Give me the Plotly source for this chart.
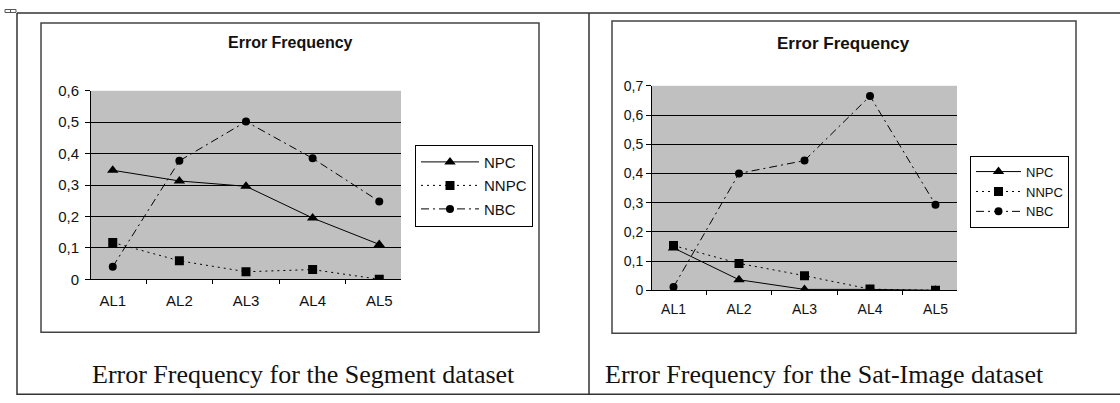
import plotly.graph_objects as go

W, H = 1120, 403

categories = ["AL1", "AL2", "AL3", "AL4", "AL5"]
series_names = ["NPC", "NNPC", "NBC"]

seg_npc = [0.347, 0.313, 0.296, 0.195, 0.111]
seg_nnpc = [0.117, 0.059, 0.024, 0.031, 0.0]
seg_nbc = [0.040, 0.377, 0.502, 0.385, 0.248]

sat_npc = [0.145, 0.036, 0.003, 0.003, 0.0]
sat_nnpc = [0.153, 0.092, 0.050, 0.004, 0.0]
sat_nbc = [0.011, 0.400, 0.444, 0.665, 0.293]

seg_ticks = [0, 0.1, 0.2, 0.3, 0.4, 0.5, 0.6]
seg_ticktext = ["0", "0,1", "0,2", "0,3", "0,4", "0,5", "0,6"]
sat_ticks = [0, 0.1, 0.2, 0.3, 0.4, 0.5, 0.6, 0.7]
sat_ticktext = ["0", "0,1", "0,2", "0,3", "0,4", "0,5", "0,6", "0,7"]

chart_title = "Error Frequency"
caption_left = "Error Frequency for the Segment dataset"
caption_right = "Error Frequency for the Sat-Image dataset"

SANS = "Arial, Liberation Sans, sans-serif"
SERIF = "Times New Roman, Liberation Serif, serif"

# The page shows the figure in a band 8px below the top and 387px tall.
TOP_OFF = 8.0
BAND_H = 387.0


def px(x):
    return x / W


def py(y):
    v = 1 - (y - TOP_OFF) / BAND_H
    return min(1.0, max(0.0, v))


styles = {
    "NPC": dict(dash="solid", symbol="triangle-up", size=10),
    "NNPC": dict(dash="2px,4px", symbol="square", size=9),
    "NBC": dict(dash="8px,4px,2px,4px", symbol="circle", size=8),
}

fig = go.Figure()

left_data = [seg_npc, seg_nnpc, seg_nbc]
right_data = [sat_npc, sat_nnpc, sat_nbc]

for name, vals in zip(series_names, left_data):
    s = styles[name]
    fig.add_trace(go.Scatter(
        x=categories, y=vals, name=name, mode="lines+markers",
        line=dict(color="black", width=1, dash=s["dash"]),
        marker=dict(symbol=s["symbol"], size=s["size"], color="black"),
        xaxis="x", yaxis="y", legend="legend", legendgroup="L" + name,
    ))

for name, vals in zip(series_names, right_data):
    s = styles[name]
    fig.add_trace(go.Scatter(
        x=categories, y=vals, name=name, mode="lines+markers",
        line=dict(color="black", width=1, dash=s["dash"]),
        marker=dict(symbol=s["symbol"], size=s["size"], color="black"),
        xaxis="x2", yaxis="y2", legend="legend2", legendgroup="R" + name,
    ))


def xaxis_style(size, standoff):
    return dict(
        type="category", showgrid=False, showline=True, linecolor="black", linewidth=1,
        ticks="outside", tickson="boundaries", ticklen=4, tickcolor="black",
        tickfont=dict(family=SANS, size=size, color="#111"),
        ticklabelstandoff=standoff, zeroline=False, fixedrange=True,
    )


def yaxis_style(size, standoff):
    return dict(
        showgrid=True, gridcolor="black", gridwidth=1, showline=True, linecolor="black",
        linewidth=1, ticks="outside", ticklen=5, tickcolor="black",
        tickfont=dict(family=SANS, size=size, color="#111"),
        ticklabelstandoff=standoff, zeroline=False, fixedrange=True,
    )


fig.update_layout(
    width=W, height=H,
    autosize=False,
    margin=dict(l=0, r=0, t=0, b=0, pad=0),
    paper_bgcolor="white",
    plot_bgcolor="#c0c0c0",
    xaxis=dict(domain=[px(91), px(401)], anchor="y", **xaxis_style(15, 8)),
    yaxis=dict(domain=[py(279), py(90)], anchor="x", range=[0, 0.6],
               tickvals=seg_ticks, ticktext=seg_ticktext, **yaxis_style(15, 3)),
    xaxis2=dict(domain=[px(652), px(957)], anchor="y2", **xaxis_style(14, 6)),
    yaxis2=dict(domain=[py(290), py(85)], anchor="x2", range=[0, 0.7],
                tickvals=sat_ticks, ticktext=sat_ticktext, **yaxis_style(14, 0)),
    legend=dict(x=px(415), y=py(144), xanchor="left", yanchor="top",
                bordercolor="black", borderwidth=1, bgcolor="white",
                font=dict(family=SANS, size=15, color="#111"),
                tracegroupgap=1, itemwidth=58),
    legend2=dict(x=px(970), y=py(155), xanchor="left", yanchor="top",
                 bordercolor="black", borderwidth=1, bgcolor="white",
                 font=dict(family=SANS, size=13, color="#111"),
                 tracegroupgap=0, itemwidth=45),
    showlegend=True,
)

shapes = []
line_col = "#333333"
# table lines
shapes.append(dict(type="line", xref="paper", yref="paper", x0=px(17), x1=px(1120), y0=py(12), y1=py(12), line=dict(color=line_col, width=1.5)))
shapes.append(dict(type="line", xref="paper", yref="paper", x0=px(17), x1=px(1120), y0=0.002, y1=0.002, line=dict(color=line_col, width=1.5)))
shapes.append(dict(type="line", xref="paper", yref="paper", x0=px(17), x1=px(17), y0=0.0, y1=py(12), line=dict(color=line_col, width=1.5)))
shapes.append(dict(type="line", xref="paper", yref="paper", x0=px(589), x1=px(589), y0=0.0, y1=py(12), line=dict(color=line_col, width=1.5)))
# chart boxes
shapes.append(dict(type="rect", xref="paper", yref="paper", x0=px(41), x1=px(539), y0=py(332), y1=py(22), line=dict(color="#444444", width=1.5), layer="below"))
shapes.append(dict(type="rect", xref="paper", yref="paper", x0=px(612), x1=px(1076), y0=py(333), y1=py(20), line=dict(color="#444444", width=1.5), layer="below"))
# table move handle
shapes.append(dict(type="rect", xref="paper", yref="paper", x0=px(5), x1=px(16), y0=py(11.5), y1=py(8.5), line=dict(color="#555555", width=1)))
shapes.append(dict(type="line", xref="paper", yref="paper", x0=px(10.5), x1=px(10.5), y0=py(11.5), y1=py(8.5), line=dict(color="#555555", width=1)))
fig.update_layout(shapes=shapes)

ann = []
ann.append(dict(text="<b>" + chart_title + "</b>", x=px(290), y=py(42), xref="paper", yref="paper",
                showarrow=False, xanchor="center", yanchor="middle",
                font=dict(family=SANS, size=16, color="#111")))
ann.append(dict(text="<b>" + chart_title + "</b>", x=px(843), y=py(43), xref="paper", yref="paper",
                showarrow=False, xanchor="center", yanchor="middle",
                font=dict(family=SANS, size=17, color="#111")))
ann.append(dict(text=caption_left, x=px(303.5), y=py(374), xref="paper", yref="paper",
                showarrow=False, xanchor="center", yanchor="middle",
                font=dict(family=SERIF, size=26, color="#111")))
ann.append(dict(text=caption_right, x=px(824), y=py(374), xref="paper", yref="paper",
                showarrow=False, xanchor="center", yanchor="middle",
                font=dict(family=SERIF, size=26, color="#111")))
fig.update_layout(annotations=ann)

fig.write_html("out.html")
